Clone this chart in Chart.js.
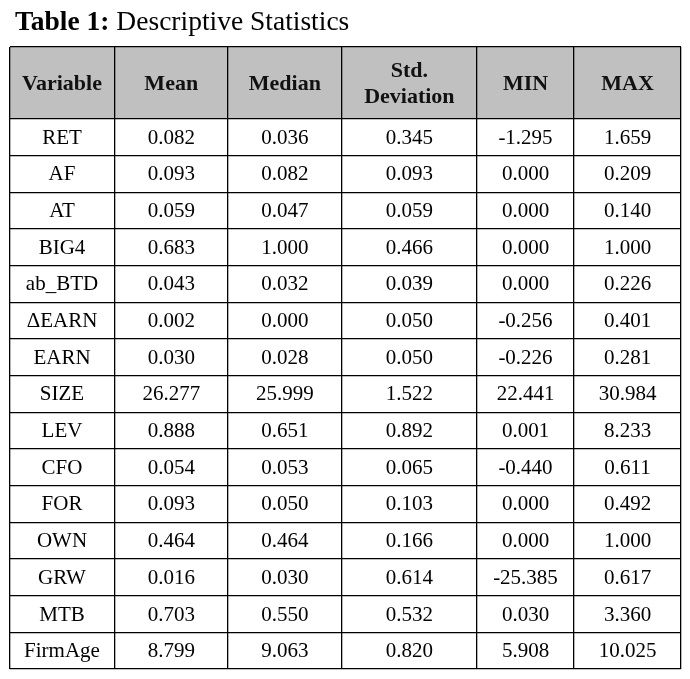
<!DOCTYPE html>
<html>
<head>
<meta charset="utf-8">
<script src="https://cdn.jsdelivr.net/npm/chart.js@4/dist/chart.umd.min.js"></script>
<style>
  html, body { margin: 0; padding: 0; background: #ffffff; }
  #wrap { width: 690px; height: 679px; }
</style>
</head>
<body>
<div id="wrap"><canvas id="c" width="690" height="679"></canvas></div>
<script>
// ---- Data ----
const titleBold = "Table 1:";
const titleRest = " Descriptive Statistics";
const headers = ["Variable", "Mean", "Median", ["Std.", "Deviation"], "MIN", "MAX"];
const variables = ["RET", "AF", "AT", "BIG4", "ab_BTD", "\u0394EARN", "EARN", "SIZE", "LEV", "CFO", "FOR", "OWN", "GRW", "MTB", "FirmAge"];
const meanValues   = [0.082, 0.093, 0.059, 0.683, 0.043, 0.002, 0.030, 26.277, 0.888, 0.054, 0.093, 0.464, 0.016, 0.703, 8.799];
const medianValues = [0.036, 0.082, 0.047, 1.000, 0.032, 0.000, 0.028, 25.999, 0.651, 0.053, 0.050, 0.464, 0.030, 0.550, 9.063];
const stdValues    = [0.345, 0.093, 0.059, 0.466, 0.039, 0.050, 0.050, 1.522, 0.892, 0.065, 0.103, 0.166, 0.614, 0.532, 0.820];
const minValues    = [-1.295, 0.000, 0.000, 0.000, 0.000, -0.256, -0.226, 22.441, 0.001, -0.440, 0.000, 0.000, -25.385, 0.030, 5.908];
const maxValues    = [1.659, 0.209, 0.140, 1.000, 0.226, 0.401, 0.281, 30.984, 8.233, 0.611, 0.492, 1.000, 0.617, 3.360, 10.025];

// ---- Layout (relative column widths / row units) ----
const columnWeights = [105, 113.5, 113.7, 135.3, 97, 107];
const headerRowUnits = 1.96;

const colEdges = [0];
columnWeights.forEach(w => colEdges.push(colEdges[colEdges.length - 1] + w));
const rowEdges = [0, headerRowUnits];
variables.forEach(() => rowEdges.push(rowEdges[rowEdges.length - 1] + 1));
const totalW = colEdges[colEdges.length - 1];
const totalH = rowEdges[rowEdges.length - 1];

const columnsData = [null, meanValues, medianValues, stdValues, minValues, maxValues];

const SERIF = "'Liberation Serif', 'Times New Roman', serif";

const tablePlugin = {
  id: 'tablePlugin',
  beforeDraw(chart) {
    const ctx = chart.ctx;
    const xs = chart.scales.x, ys = chart.scales.y;
    ctx.save();
    ctx.fillStyle = '#ffffff';
    ctx.fillRect(0, 0, chart.width, chart.height);
    // header background
    const x0 = xs.getPixelForValue(0), x1 = xs.getPixelForValue(totalW);
    const y0 = ys.getPixelForValue(0), y1 = ys.getPixelForValue(headerRowUnits);
    ctx.fillStyle = '#c0c0c0';
    ctx.fillRect(x0, y0, x1 - x0, y1 - y0);
    ctx.restore();
  },
  afterDraw(chart) {
    const ctx = chart.ctx;
    const xs = chart.scales.x, ys = chart.scales.y;
    ctx.save();
    // title
    ctx.textBaseline = 'alphabetic';
    ctx.textAlign = 'left';
    ctx.fillStyle = '#000000';
    ctx.font = 'bold 27.5px ' + SERIF;
    ctx.fillText(titleBold, 15, 30);
    const bw = ctx.measureText(titleBold).width;
    ctx.font = '27.5px ' + SERIF;
    ctx.fillText(titleRest, 15 + bw, 30);

    ctx.textAlign = 'center';
    ctx.textBaseline = 'middle';
    // header
    ctx.font = 'bold 22px ' + SERIF;
    ctx.fillStyle = '#111111';
    const hy = ys.getPixelForValue(headerRowUnits / 2);
    headers.forEach((h, c) => {
      const cx = xs.getPixelForValue((colEdges[c] + colEdges[c + 1]) / 2);
      if (Array.isArray(h)) {
        const lh = 26;
        const start = hy - lh * (h.length - 1) / 2;
        h.forEach((line, k) => ctx.fillText(line, cx, start + k * lh + 1));
      } else {
        ctx.fillText(h, cx, hy + 1);
      }
    });
    // body
    ctx.font = '21px ' + SERIF;
    ctx.fillStyle = '#000000';
    variables.forEach((v, r) => {
      const cy = ys.getPixelForValue((rowEdges[r + 1] + rowEdges[r + 2]) / 2) + 1;
      columnsData.forEach((arr, c) => {
        const cx = xs.getPixelForValue((colEdges[c] + colEdges[c + 1]) / 2);
        const txt = arr === null ? v : arr[r].toFixed(3);
        ctx.fillText(txt, cx, cy);
      });
    });
    ctx.restore();
  }
};

new Chart(document.getElementById('c'), {
  type: 'scatter',
  data: { datasets: [{ data: [] }] },
  options: {
    responsive: false,
    animation: false,
    events: [],
    layout: { padding: { left: 9.5, right: 9, top: 47, bottom: 10 } },
    plugins: { legend: { display: false }, tooltip: { enabled: false }, title: { display: false } },
    scales: {
      x: {
        type: 'linear', position: 'bottom', min: 0, max: totalW,
        afterBuildTicks: s => { s.ticks = colEdges.map(v => ({ value: v })); },
        ticks: { display: false },
        grid: { color: '#000000', lineWidth: 1.3, drawTicks: false, tickLength: 0 },
        border: { display: false }
      },
      y: {
        type: 'linear', reverse: true, min: 0, max: totalH,
        afterBuildTicks: s => { s.ticks = rowEdges.map(v => ({ value: v })); },
        ticks: { display: false },
        grid: { color: '#000000', lineWidth: 1.3, drawTicks: false, tickLength: 0 },
        border: { display: false }
      }
    }
  },
  plugins: [tablePlugin]
});
</script>
</body>
</html>
